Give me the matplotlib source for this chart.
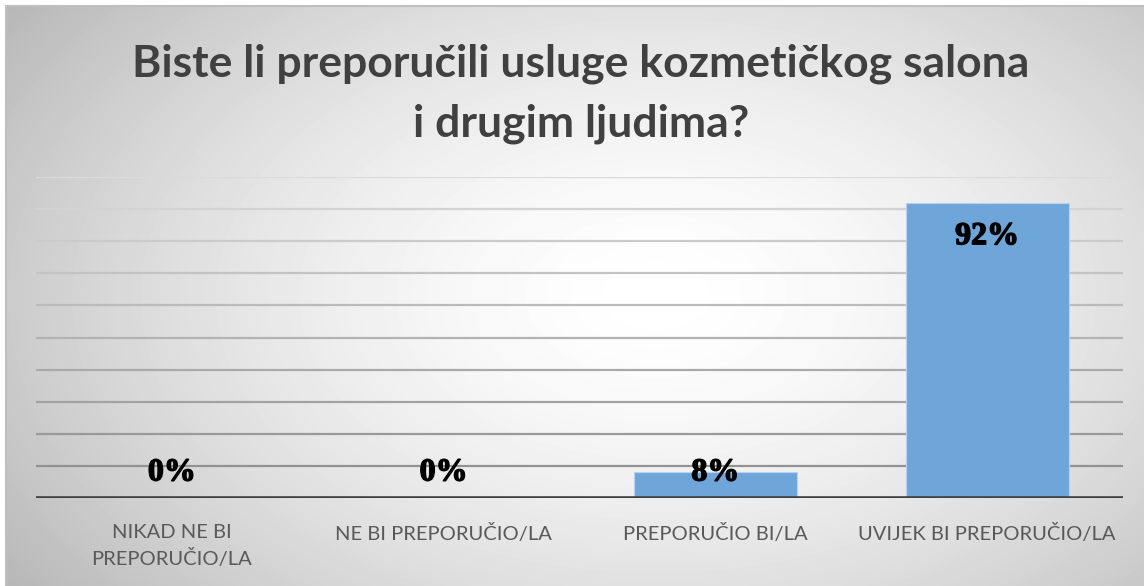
import numpy as np
import matplotlib
matplotlib.use('Agg')
from matplotlib import pyplot as plt
from matplotlib import font_manager as fm
from matplotlib import patheffects as pe

# chart data
categories = ['NIKAD NE BI\nPREPORUČIO/LA', 'NE BI PREPORUČIO/LA',
              'PREPORUČIO BI/LA', 'UVIJEK BI PREPORUČIO/LA']
shares = [0.0, 0.0, 0.08, 0.92]
share_labels = ['0%', '0%', '8%', '92%']
title = 'Biste li preporučili usluge kozmetičkog salona\ni drugim ljudima?'

W, H = 1144, 586
fig = plt.figure(figsize=(W / 100, H / 100), dpi=100)
fig.patch.set_facecolor('white')

# radial gradient background (white centre, grey edges)
bg = fig.add_axes([6 / W, 0, 1 - 6 / W, 1 - 6 / H])
yy, xx = np.mgrid[0:H - 6, 0:W - 6]
d = np.sqrt(((xx - 650) / 700.0) ** 2 + ((yy - 290) / 440.0) ** 2)
shade = 1.0 - 0.23 * np.clip(d, 0, 1.15) ** 1.6
bg.imshow(shade, cmap='gray', vmin=0, vmax=1, aspect='auto',
          extent=[0, 1, 0, 1], origin='upper', interpolation='bilinear')
bg.set_xticks([])
bg.set_yticks([])
for side in ['right', 'bottom']:
    bg.spines[side].set_visible(False)
for side in ['left', 'top']:
    bg.spines[side].set_color('#bfbfbf')
    bg.spines[side].set_linewidth(1.5)

ax = fig.add_axes([36 / W, 88 / H, 1087 / W, 321 / H])
ax.patch.set_visible(False)
x = np.arange(len(categories))
ax.set_xlim(-0.5, len(categories) - 0.5)
ax.set_ylim(0, 1.0)

# gridlines fade from light at top to darker at bottom
ticks = np.arange(0.1, 1.01, 0.1)
for t in ticks:
    g = 0.86 - 0.32 * (1 - t)
    ax.axhline(t, color=(g, g, g), lw=1.6, zorder=1)

ax.bar(x, shares, width=0.6, color='#6fa6d9', edgecolor='#b7d2ee',
       linewidth=0.8, zorder=2)
ax.axhline(0, color='#404040', lw=2.6, zorder=3)

# bold serif for the value labels
serif_bold = fm.FontProperties(family=['Liberation Serif', 'DejaVu Serif'],
                               weight='bold', size=23)
for xi, v, lab in zip(x, shares, share_labels):
    ypos = max(v - 0.106, 0.078)
    ax.text(xi, ypos, lab, ha='center', va='center', fontproperties=serif_bold,
            color='black', zorder=4,
            path_effects=[pe.withStroke(linewidth=1.0, foreground='black')])

ax.set_xticks(x)
ax.set_xticklabels(categories, fontsize=14.5, family='Lato', color='#595959',
                   linespacing=1.45, va='top')
ax.tick_params(axis='x', length=0, pad=19)
ax.set_yticks([])
for s in ax.spines.values():
    s.set_visible(False)

fig.text(0.508, 1 - 94 / H, title, ha='center', va='center', fontsize=32,
         fontweight='bold', family='Lato', color='#404040', linespacing=1.6)

fig.savefig('out.png', dpi=100)
